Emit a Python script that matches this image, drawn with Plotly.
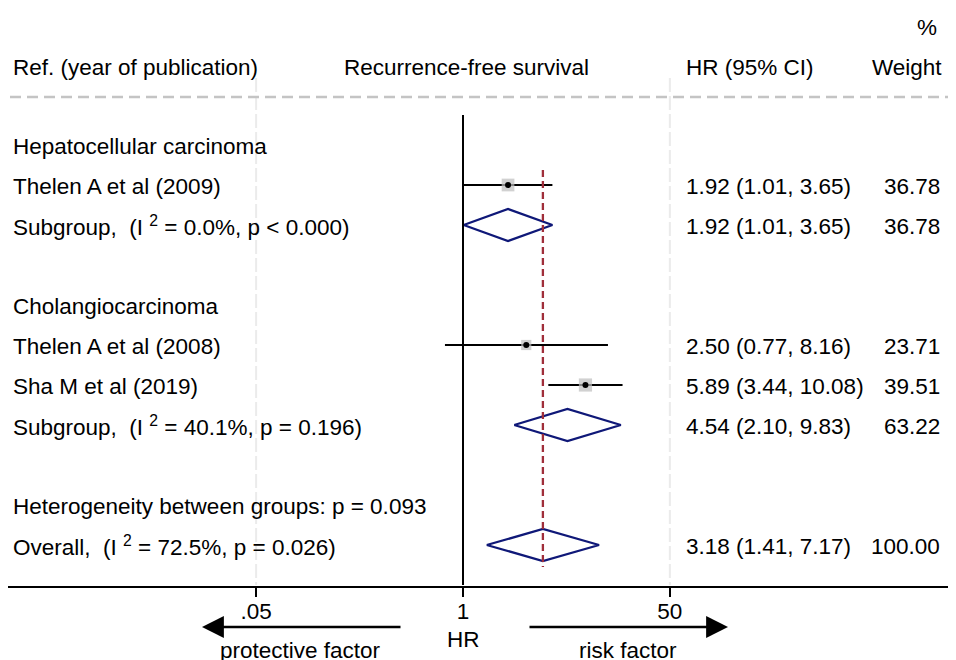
import plotly.graph_objects as go
import math

# ---------------- data ----------------
row_labels = [
    "Hepatocellular carcinoma",
    "Thelen A et al (2009)",
    "Subgroup,  (I <sup>2</sup> = 0.0%, p < 0.000)",
    "",
    "Cholangiocarcinoma",
    "Thelen A et al (2008)",
    "Sha M et al (2019)",
    "Subgroup,  (I <sup>2</sup> = 40.1%, p = 0.196)",
    "",
    "Heterogeneity between groups: p = 0.093",
    "Overall,  (I <sup>2</sup> = 72.5%, p = 0.026)",
]
row_kinds = ["head", "study", "sub", "blank", "head", "study", "study", "sub", "blank", "head", "overall"]
hr_est = [None, 1.92, 1.92, None, None, 2.50, 5.89, 4.54, None, None, 3.18]
ci_low = [None, 1.01, 1.01, None, None, 0.77, 3.44, 2.10, None, None, 1.41]
ci_high = [None, 3.65, 3.65, None, None, 8.16, 10.08, 9.83, None, None, 7.17]
weights = [None, 36.78, 36.78, None, None, 23.71, 39.51, 63.22, None, None, 100.00]

tick_vals = [0.05, 1, 20]
tick_text = [".05", "1", "50"]

overall_hr = 3.18

# ---------------- layout helpers ----------------
OFF = 8                      # page body margin
W, H = 956 - OFF, 660 - OFF  # figure size
MB = 74
PLOT_H = H - MB
ROW0_PX, ROW_STEP = 145, 40
TXT_DY = 1                   # visual centring of text glyphs


def row_of(py):
    return (py - ROW0_PX) / ROW_STEP


def px_x(px):
    return (px - OFF) / W


def px_y(py):
    return 1 - (py - OFF) / PLOT_H


FONT = dict(family="Liberation Sans, Arial, sans-serif", size=22.5, color="black")

fig = go.Figure()

rows = list(range(len(row_labels)))

# CI lines for studies
cx, cy = [], []
for r, k, lo, hi in zip(rows, row_kinds, ci_low, ci_high):
    if k == "study":
        cx += [lo, hi, None]
        cy += [r, r, None]
fig.add_trace(go.Scatter(x=cx, y=cy, mode="lines", line=dict(color="black", width=2),
                         hoverinfo="skip", showlegend=False))

# weight boxes
sx = [h for h, k in zip(hr_est, row_kinds) if k == "study"]
sy = [r for r, k in zip(rows, row_kinds) if k == "study"]
sw = [w for w, k in zip(weights, row_kinds) if k == "study"]
fig.add_trace(go.Scatter(x=sx, y=sy, mode="markers",
                         marker=dict(symbol="square", size=[2.1 * math.sqrt(w) for w in sw],
                                     color="#bdbdbd", line=dict(width=0)),
                         hoverinfo="skip", showlegend=False))
fig.add_trace(go.Scatter(x=sx, y=sy, mode="markers",
                         marker=dict(symbol="circle", size=6, color="black"),
                         hoverinfo="skip", showlegend=False))

# diamonds
dx, dy = [], []
for r, k, h, lo, hi in zip(rows, row_kinds, hr_est, ci_low, ci_high):
    if k in ("sub", "overall"):
        dx += [lo, h, hi, h, lo, None]
        dy += [r, r - 0.4, r, r + 0.4, r, None]
fig.add_trace(go.Scatter(x=dx, y=dy, mode="lines", line=dict(color="#0f1878", width=2.3),
                         hoverinfo="skip", showlegend=False))

shapes = []
# faint vertical grid lines
for tv in tick_vals:
    if tv != 1:
        shapes.append(dict(type="line", xref="x", yref="y", x0=tv, x1=tv,
                           y0=row_of(78), y1=row_of(585),
                           line=dict(color="#ebebeb", width=2, dash="14px,4px"), layer="below"))
# top dashed separator
shapes.append(dict(type="line", xref="paper", yref="y", x0=px_x(10), x1=1,
                   y0=row_of(97), y1=row_of(97),
                   line=dict(color="#c4c4c4", width=2.5, dash="11px,6px")))
# null line
shapes.append(dict(type="line", xref="x", yref="y", x0=1, x1=1,
                   y0=row_of(115), y1=row_of(585), line=dict(color="black", width=2)))
# overall effect line
shapes.append(dict(type="line", xref="x", yref="y", x0=overall_hr, x1=overall_hr,
                   y0=row_of(170), y1=row_of(567),
                   line=dict(color="#a02e3a", width=2.3, dash="7px,4px")))

ann = []
# headers
ann.append(dict(text="Ref. (year of publication)", x=px_x(11), xanchor="left", y=row_of(67), yref="y"))
ann.append(dict(text="Recurrence-free survival", x=px_x(466), xanchor="center", y=row_of(67), yref="y"))
ann.append(dict(text="HR (95% CI)", x=px_x(684), xanchor="left", y=row_of(67), yref="y"))
ann.append(dict(text="Weight", x=px_x(944), xanchor="right", y=row_of(67), yref="y"))
ann.append(dict(text="%", x=px_x(927), xanchor="center", y=row_of(27), yref="y"))

dy_row = TXT_DY / ROW_STEP
for r, lab, k, h, lo, hi, w in zip(rows, row_labels, row_kinds, hr_est, ci_low, ci_high, weights):
    if lab:
        ann.append(dict(text=lab, x=px_x(11), xanchor="left", y=r + dy_row, yref="y"))
    if h is not None:
        ann.append(dict(text=f"{h:.2f} ({lo:.2f}, {hi:.2f})", x=px_x(684), xanchor="left",
                        y=r + dy_row, yref="y"))
        ann.append(dict(text=f"{w:.2f}", x=px_x(942), xanchor="right", y=r + dy_row, yref="y"))

# bottom labels
ann.append(dict(text="HR", x=px_x(463), xanchor="center", y=px_y(639), yref="paper"))
ann.append(dict(text="protective factor", x=px_x(300), xanchor="center", y=px_y(650), yref="paper"))
ann.append(dict(text="risk factor", x=px_x(628), xanchor="center", y=px_y(650), yref="paper"))

for a in ann:
    a.setdefault("xref", "paper")
    a.update(showarrow=False, yanchor="middle", font=FONT)

# arrows
ann.append(dict(x=px_x(202), y=px_y(627), xref="paper", yref="paper", text="",
                showarrow=True, ax=200, ay=0, arrowhead=2, arrowsize=1.75, arrowwidth=2.5,
                arrowcolor="black"))
ann.append(dict(x=px_x(728), y=px_y(627), xref="paper", yref="paper", text="",
                showarrow=True, ax=-200, ay=0, arrowhead=2, arrowsize=1.75, arrowwidth=2.5,
                arrowcolor="black"))

decade = 159.0
r0 = -(463 - OFF) / decade
r1 = r0 + W / decade

xaxis = dict(type="log", range=[r0, r1], showgrid=False, zeroline=False,
             showline=True, linecolor="black", linewidth=2,
             ticks="outside", ticklen=9, tickwidth=2, tickcolor="black",
             tickvals=tick_vals, ticktext=tick_text, tickfont=FONT, fixedrange=True)

fig.update_layout(
    width=W, height=H,
    margin=dict(l=0, r=0, t=0, b=MB),
    paper_bgcolor="white", plot_bgcolor="white",
    shapes=shapes, annotations=ann,
    font=FONT,
    xaxis=xaxis,
    yaxis=dict(range=[row_of(OFF + PLOT_H), row_of(OFF)], visible=False, fixedrange=True),
    showlegend=False,
)
try:
    fig.update_xaxes(ticklabelstandoff=-5)
except Exception:
    pass

fig.write_html("out.html")
